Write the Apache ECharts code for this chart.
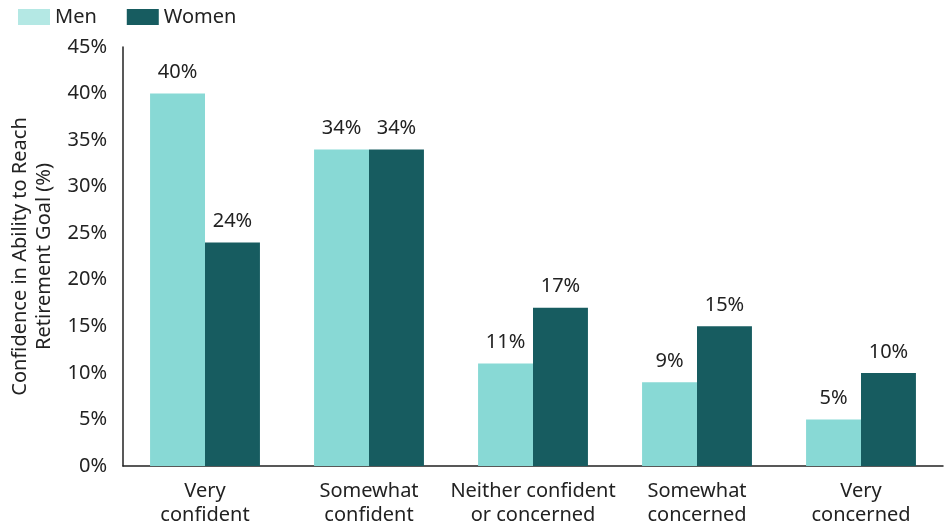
<!DOCTYPE html>
<html>
<head>
<meta charset="utf-8">
<script src="https://cdn.jsdelivr.net/npm/echarts@6/dist/echarts.min.js"></script>
<style>
  html, body { margin: 0; padding: 0; background: #fff; }
  #chart { width: 949px; height: 529px; }
</style>
</head>
<body>
<div id="chart"></div>
<script>
// Confidence levels asked in the survey
const categories = [
  'Very\nconfident',
  'Somewhat\nconfident',
  'Neither confident\nor concerned',
  'Somewhat\nconcerned',
  'Very\nconcerned'
];
// Share of respondents (%) by gender
const menValues = [40, 34, 11, 9, 5];
const womenValues = [24, 34, 17, 15, 10];
// Y axis tick values (%)
const yTicks = [0, 5, 10, 15, 20, 25, 30, 35, 40, 45];

const FONT = 'Noto Sans';
const FS = 20;
const TEXT = '#222';
const MEN = '#88D9D5';
const WOMEN = '#175C60';

const chart = echarts.init(document.getElementById('chart'), null, { renderer: 'canvas' });

const labelStyle = {
  show: true,
  position: 'top',
  distance: 11,
  formatter: p => p.value + '%',
  fontFamily: FONT,
  fontSize: FS,
  color: TEXT
};

chart.setOption({
  animation: false,
  backgroundColor: '#fff',
  textStyle: { fontFamily: FONT },
  legend: {
    left: 13,
    top: 2,
    itemWidth: 32,
    itemHeight: 16,
    itemGap: 30,
    icon: 'rect',
    textStyle: { fontFamily: FONT, fontSize: FS, color: TEXT },
    data: [
      { name: 'Men', itemStyle: { color: '#B4E8E4' } },
      { name: 'Women' }
    ]
  },
  grid: { left: 123, right: 6, top: 47, bottom: 63, containLabel: false, outerBoundsMode: 'none' },
  xAxis: {
    type: 'category',
    data: categories,
    axisLine: { show: true, lineStyle: { color: '#222', width: 1.5 } },
    axisTick: { show: false },
    axisLabel: {
      interval: 0,
      margin: 13,
      fontFamily: FONT,
      fontSize: FS,
      lineHeight: 24,
      color: TEXT
    }
  },
  yAxis: {
    type: 'value',
    min: yTicks[0],
    max: yTicks[yTicks.length - 1],
    interval: yTicks[1] - yTicks[0],
    name: 'Confidence in Ability to Reach\nRetirement Goal (%)',
    nameLocation: 'middle',
    nameGap: 66,
    nameRotate: 90,
    nameTextStyle: { fontFamily: FONT, fontSize: FS, lineHeight: 24, color: TEXT, align: 'center' },
    axisLine: { show: true, lineStyle: { color: '#222', width: 1.5 } },
    axisTick: { show: false },
    splitLine: { show: false },
    axisLabel: {
      margin: 16,
      fontFamily: FONT,
      fontSize: FS,
      color: TEXT,
      formatter: v => v + '%'
    }
  },
  series: [
    {
      name: 'Men',
      type: 'bar',
      data: menValues,
      barGap: '0%',
      barCategoryGap: '33%',
      itemStyle: { color: MEN },
      label: labelStyle
    },
    {
      name: 'Women',
      type: 'bar',
      data: womenValues,
      itemStyle: { color: WOMEN },
      label: labelStyle
    }
  ]
});
</script>
</body>
</html>
